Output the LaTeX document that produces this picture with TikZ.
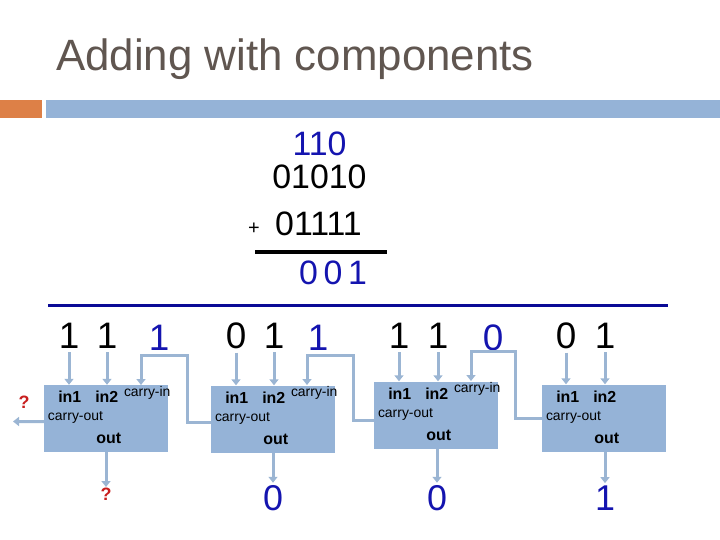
\documentclass[tikz,border=0pt]{standalone}
\usepackage{fontspec}
\setmainfont{Liberation Sans}
\usetikzlibrary{arrows.meta}
\definecolor{titlegray}{RGB}{96,86,80}
\definecolor{barorange}{RGB}{221,128,71}
\definecolor{barblue}{RGB}{149,179,215}
\definecolor{boxblue}{RGB}{149,179,215}
\definecolor{arrblue}{RGB}{155,181,211}
\definecolor{digblue}{RGB}{20,20,175}
\definecolor{linenavy}{RGB}{10,10,150}
\definecolor{qred}{RGB}{200,30,30}
\begin{document}
\begin{tikzpicture}[x=1bp,y=-1bp,
  adder/.style={fill=boxblue, minimum width=124bp, minimum height=67bp, inner sep=0pt},
  bigdig/.style={font=\fontsize{37}{42}\selectfont, inner sep=4bp, anchor=base},
  carrydig/.style={bigdig, text=digblue},
  sumdig/.style={font=\fontsize{34}{40}\selectfont, inner sep=0pt, anchor=base},
  outdig/.style={font=\fontsize{36}{40}\selectfont, inner sep=2bp, anchor=base, text=digblue},
  qmark/.style={font=\fontsize{18}{20}\selectfont\bfseries, text=qred, inner sep=1bp},
  lblbold/.style={font=\fontsize{16}{18}\selectfont\bfseries, inner sep=0pt},
  lblthin/.style={font=\fontsize{14}{16}\selectfont, inner sep=0pt},
  arr/.style={draw=arrblue, line width=3bp, -{Triangle[width=9bp,length=6bp]}},
  wire/.style={draw=arrblue, line width=3bp}
]
\useasboundingbox (0,0) rectangle (720,540);
% header
\node[anchor=base west, inner sep=0pt, text=titlegray, font=\fontsize{44}{50}\selectfont] (title) at (56,71) {Adding with components};
\fill[barorange] (0,100) rectangle (42,118);
\fill[barblue] (46,100) rectangle (720,118);
% column sum
\node[sumdig, text=digblue] (c) at (319.5,156) {110};
\node[sumdig] (a) at (319.5,189) {01010};
\node[sumdig] (b) at (318.5,236) {01111};
\node[font=\fontsize{20}{22}\selectfont, inner sep=0pt] (plus) at (254,229) {+};
\draw[line width=4bp] (255,252) -- (387,252);
\node[sumdig, text=digblue] (s) at (333,285) {0\,0\,1};
% separator
\draw[linenavy, line width=3bp] (48,305) -- (668,305);
% adders
\node[adder] (b1) at (106,418.5) {};
\node[adder] (b2) at (273,419) {};
\node[adder] (b3) at (436,415) {};
\node[adder] (b4) at (604,418) {};
\foreach \b in {b1,b2,b3,b4}{
  \node[lblbold] at ([xshift=26bp,yshift=-12bp]\b.north west) {in1};
  \node[lblbold] at ([xshift=63bp,yshift=-12bp]\b.north west) {in2};
  \node[lblthin, anchor=west] at ([xshift=4bp,yshift=-33bp]\b.north west) {carry-out};
  \node[lblbold] at ([xshift=65bp,yshift=-54bp]\b.north west) {out};
}
\foreach \b in {b1,b2,b3}{
  \node[lblthin, anchor=west] at ([xshift=80bp,yshift=-8bp]\b.north west) {carry-in};
}
% input digits
\node[bigdig] (i1a) at (69,348) {1};
\node[bigdig] (i1b) at (107,348) {1};
\node[carrydig] (k1) at (159,350) {1};
\node[bigdig] (i2a) at (236,348) {0};
\node[bigdig] (i2b) at (274,348) {1};
\node[carrydig] (k2) at (318,350) {1};
\node[bigdig] (i3a) at (399,348) {1};
\node[bigdig] (i3b) at (438,348) {1};
\node[carrydig] (k3) at (493,350) {0};
\node[bigdig] (i4a) at (566,348) {0};
\node[bigdig] (i4b) at (605,348) {1};
\foreach \d/\b in {i1a/b1,i1b/b1,i2a/b2,i2b/b2,i3a/b3,i3b/b3,i4a/b4,i4b/b4}{
  \draw[arr] (\d.south) -- (\d.south |- \b.north);
}
% carry connections
\coordinate (ci1) at (141,385);
\coordinate (ci2) at (307,385);
\coordinate (ci3) at (471,381);
\coordinate (co2) at ([yshift=-3bp]b2.west);
\coordinate (co3) at ([yshift=-5bp]b3.west);
\coordinate (co4) at (b4.west);
\coordinate (up1) at (187,355);
\coordinate (up2) at (353,355);
\coordinate (up3) at (515,351);
\draw[arr] (co2) -| (up1) -| (ci1);
\draw[arr] (co3) -| (up2) -| (ci2);
\draw[arr] (co4) -| (up3) -| (ci3);
% carry-out of leftmost adder
\coordinate (lost) at (13,421.5);
\draw[arr] ([yshift=-3bp]b1.west) -- (lost);
\node[qmark] (q1) at (24,402) {?};
% outputs
\node[qmark, anchor=north] (o1) at (106,487) {?};
\node[outdig] (o2) at (273,510) {0};
\node[outdig] (o3) at (437,510) {0};
\node[outdig] (o4) at (605,510) {1};
\draw[arr] (o1.north |- b1.south) -- (o1.north);
\draw[arr] (o2.north |- b2.south) -- (o2.north);
\draw[arr] (o3.north |- b3.south) -- (o3.north);
\draw[arr] (o4.north |- b4.south) -- (o4.north);
\end{tikzpicture}
\end{document}
